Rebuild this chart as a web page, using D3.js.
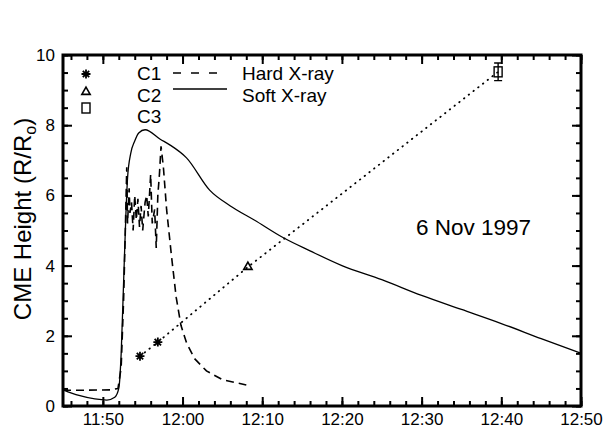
<!DOCTYPE html>
<html>
<head>
<meta charset="utf-8">
<script src="https://cdn.jsdelivr.net/npm/d3@7"></script>
<style>
  body { margin: 0; background: #fff; }
  svg text { font-family: "Liberation Sans", Arial, sans-serif; fill: #000; }
</style>
</head>
<body>
<svg id="chart" width="606" height="433"></svg>
<script>
// time values are minutes after 11:00 UT, 6 Nov 1997
var softTime = [45, 47, 49, 50.5, 51.5, 52, 52.3, 52.6, 52.9, 53.1, 53.5, 54, 54.5, 55.3, 57.2, 58.4, 60.5, 63.4, 66, 69, 72.6, 76, 80, 85, 90, 95, 100, 105, 110];
var softVal  = [0.46, 0.3, 0.2, 0.17, 0.25, 0.5, 1.5, 3.5, 5.5, 6.5, 7.2, 7.55, 7.78, 7.87, 7.6, 7.44, 7.07, 6.15, 5.7, 5.3, 4.8, 4.42, 4.0, 3.6, 3.15, 2.75, 2.35, 1.92, 1.5];

var hardTime = [45, 48, 51, 51.9, 52.3, 52.6, 52.8, 53, 53.1, 53.3, 53.4, 53.6, 53.8, 54, 54.2, 54.4, 54.6, 54.8, 55, 55.3, 55.5, 55.7, 56, 56.2, 56.5, 56.7, 56.9, 57.1, 57.3, 57.6, 58, 58.6, 59.2, 59.8, 60.5, 61.5, 63, 65, 68];
var hardVal  = [0.45, 0.45, 0.46, 0.5, 1.1, 3.0, 4.8, 6.8, 5.2, 6.2, 5.5, 5.8, 5.0, 6.0, 5.3, 5.9, 5.1, 5.7, 5.0, 5.8, 6.0, 5.4, 6.6, 5.2, 5.6, 4.5, 6.0, 6.6, 7.4, 6.8, 5.6, 4.3, 3.1, 2.3, 1.8, 1.35, 1.0, 0.75, 0.6];

var cmeLabels = ["C1", "C1", "C2", "C3"];
var cmeTime   = [54.66, 56.9, 68.2, 99.6];
var cmeVal    = [1.42, 1.82, 3.96, 9.52];
var cmeErr    = [0, 0, 0, 0.25];

var xTickLabels = ["11:50", "12:00", "12:10", "12:20", "12:30", "12:40", "12:50"];
var yTickLabels = [0, 2, 4, 6, 8, 10];

var svg = d3.select("#chart");
var margin = {left: 63, right: 25, top: 55, bottom: 27};
var W = 606, H = 433;
var base = Date.UTC(1997, 10, 6, 11, 0);
function toDate(m) { return new Date(base + m * 60000); }

var x = d3.scaleUtc().domain([toDate(45), toDate(110)]).range([margin.left, W - margin.right]);
var y = d3.scaleLinear().domain([0, 10]).range([H - margin.bottom, margin.top]);

var fmt = d3.utcFormat("%H:%M");
var majorX = xTickLabels.map(function(s) {
  var p = s.split(":");
  return toDate((+p[0] - 11) * 60 + (+p[1]));
});
var minorX = d3.utcMinute.every(2).range(toDate(45), toDate(110.01));
var minorY = d3.range(0, 10.01, 0.5);

function styleAxis(g) {
  g.select(".domain").remove();
  g.selectAll("line").attr("stroke", "#000").attr("stroke-width", 2);
  g.selectAll("text").attr("font-size", 17).attr("fill", "#000");
}

var x0 = x.range()[0], x1 = x.range()[1], y0 = y.range()[0], y1 = y.range()[1];

// bottom axis
svg.append("g").attr("transform", "translate(0," + y0 + ")")
  .call(d3.axisBottom(x).tickValues(minorX).tickSize(-5).tickFormat(""))
  .call(styleAxis);
svg.append("g").attr("transform", "translate(0," + y0 + ")")
  .call(d3.axisBottom(x).tickValues(majorX).tickSize(-9).tickPadding(7).tickFormat(fmt))
  .call(styleAxis);
// top axis
svg.append("g").attr("transform", "translate(0," + y1 + ")")
  .call(d3.axisTop(x).tickValues(minorX).tickSize(-5).tickFormat(""))
  .call(styleAxis);
svg.append("g").attr("transform", "translate(0," + y1 + ")")
  .call(d3.axisTop(x).tickValues(majorX).tickSize(-9).tickFormat(""))
  .call(styleAxis);
// left axis
svg.append("g").attr("transform", "translate(" + x0 + ",0)")
  .call(d3.axisLeft(y).tickValues(minorY).tickSize(-5).tickFormat(""))
  .call(styleAxis);
svg.append("g").attr("transform", "translate(" + x0 + ",0)")
  .call(d3.axisLeft(y).tickValues(yTickLabels).tickSize(-9).tickPadding(8).tickFormat(d3.format("d")))
  .call(styleAxis);
// right axis
svg.append("g").attr("transform", "translate(" + x1 + ",0)")
  .call(d3.axisRight(y).tickValues(minorY).tickSize(-5).tickFormat(""))
  .call(styleAxis);
svg.append("g").attr("transform", "translate(" + x1 + ",0)")
  .call(d3.axisRight(y).tickValues(yTickLabels).tickSize(-9).tickFormat(""))
  .call(styleAxis);

// frame
svg.append("rect")
  .attr("x", x0).attr("y", y1)
  .attr("width", x1 - x0).attr("height", y0 - y1)
  .attr("fill", "none").attr("stroke", "#000").attr("stroke-width", 3);

// y title
svg.append("text")
  .attr("transform", "translate(31,219) rotate(-90)")
  .attr("text-anchor", "middle")
  .attr("font-size", 24)
  .html('CME Height (R/R<tspan font-size="16" dy="5">o</tspan><tspan dy="-5">)</tspan>');

var line = d3.line().x(function(d) { return x(toDate(d[0])); }).y(function(d) { return y(d[1]); });

svg.append("path")
  .datum(d3.zip(softTime, softVal))
  .attr("d", line.curve(d3.curveMonotoneX))
  .attr("fill", "none").attr("stroke", "#000").attr("stroke-width", 1.3);

svg.append("path")
  .datum(d3.zip(hardTime, hardVal))
  .attr("d", d3.line().x(function(d) { return x(toDate(d[0])); }).y(function(d) { return y(d[1]); }))
  .attr("fill", "none").attr("stroke", "#000").attr("stroke-width", 1.6)
  .attr("stroke-dasharray", "8,5");

// CME fit (dotted)
svg.append("path")
  .datum(d3.zip(cmeTime, cmeVal))
  .attr("d", d3.line().x(function(d) { return x(toDate(d[0])); }).y(function(d) { return y(d[1]); }))
  .attr("fill", "none").attr("stroke", "#000").attr("stroke-width", 1.8)
  .attr("stroke-linecap", "round")
  .attr("stroke-dasharray", "0.5,5.5");

function marker(g, kind) {
  if (kind === "C1") {
    var r = 4.5, s = 3.2;
    g.append("path")
      .attr("d", "M" + (-r) + ",0H" + r + "M0," + (-r) + "V" + r +
        "M" + (-s) + "," + (-s) + "L" + s + "," + s + "M" + (-s) + "," + s + "L" + s + "," + (-s))
      .attr("stroke", "#000").attr("stroke-width", 1.8);
    g.append("rect").attr("x", -2).attr("y", -2).attr("width", 4).attr("height", 4).attr("fill", "#000");
  } else if (kind === "C2") {
    g.append("path").attr("d", d3.symbol(d3.symbolTriangle, 30)())
      .attr("fill", "none").attr("stroke", "#000").attr("stroke-width", 1.6);
  } else {
    g.append("rect").attr("x", -4).attr("y", -5).attr("width", 8).attr("height", 10)
      .attr("fill", "none").attr("stroke", "#000").attr("stroke-width", 1.4);
  }
}

cmeTime.forEach(function(t, i) {
  var cx = x(toDate(t)), cy = y(cmeVal[i]);
  if (cmeErr[i] > 0) {
    var ya = y(cmeVal[i] + cmeErr[i]), yb = y(cmeVal[i] - cmeErr[i]);
    svg.append("path")
      .attr("d", "M" + cx + "," + ya + "V" + yb + "M" + (cx - 4) + "," + ya + "H" + (cx + 4) + "M" + (cx - 4) + "," + yb + "H" + (cx + 4))
      .attr("stroke", "#000").attr("stroke-width", 1.4);
  }
  var g = svg.append("g").attr("transform", "translate(" + cx + "," + cy + ")");
  marker(g, cmeLabels[i]);
});

// legend
var legItems = ["C1", "C2", "C3"];
var legMarkY = [74, 92, 108];
var legTextY = [80, 102, 123];
legItems.forEach(function(k, i) {
  marker(svg.append("g").attr("transform", "translate(86," + legMarkY[i] + ")"), k);
  svg.append("text").attr("x", 137).attr("y", legTextY[i]).attr("font-size", 19).text(k);
});
svg.append("line").attr("x1", 173).attr("x2", 227).attr("y1", 73).attr("y2", 73)
  .attr("stroke", "#000").attr("stroke-width", 1.5).attr("stroke-dasharray", "8,10");
svg.append("line").attr("x1", 173).attr("x2", 227).attr("y1", 89).attr("y2", 89)
  .attr("stroke", "#000").attr("stroke-width", 1.3);
svg.append("text").attr("x", 242).attr("y", 80).attr("font-size", 19).text("Hard X-ray");
svg.append("text").attr("x", 242).attr("y", 102).attr("font-size", 19).text("Soft X-ray");

svg.append("text").attr("x", 416).attr("y", 235).attr("font-size", 22.5).text("6 Nov 1997");
</script>
</body>
</html>
